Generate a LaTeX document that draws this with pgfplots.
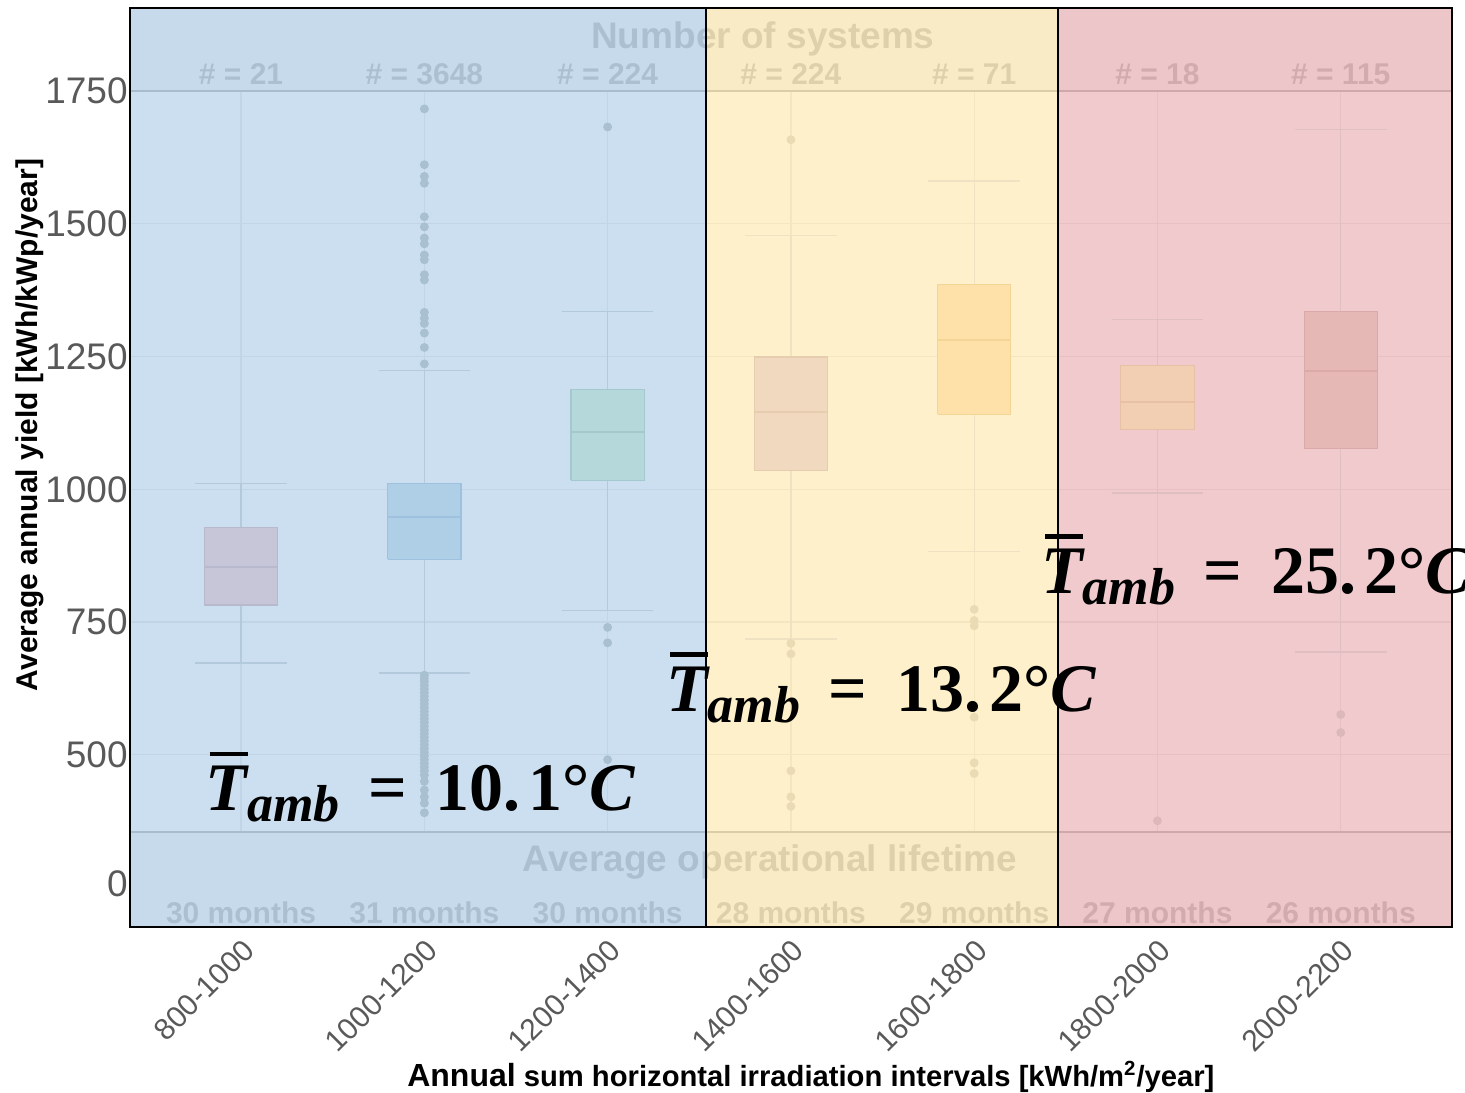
\documentclass[border=0pt]{standalone}
\usepackage[no-math]{fontspec}
\setmainfont{Liberation Sans}
\newfontfamily\tfont{Liberation Serif}
\usepackage{pgfplots}
\pgfplotsset{compat=1.18}
\definecolor{blueov}{HTML}{AACAE6}
\definecolor{yellowov}{HTML}{FCE6A8}
\definecolor{redov}{HTML}{E8A8AC}
\definecolor{panelgray}{HTML}{F4F4F4}
\definecolor{gridc}{HTML}{E6E6E6}
\definecolor{sepc}{HTML}{A8A8A8}
\definecolor{txtc}{HTML}{B0B0B0}
\definecolor{tickc}{HTML}{595959}
\definecolor{wb}{HTML}{B3CADD}\definecolor{wy}{HTML}{EFE2C2}\definecolor{wr}{HTML}{DFBFC2}
\definecolor{ob}{HTML}{A9C0D1}\definecolor{oy}{HTML}{EADBB5}\definecolor{orr}{HTML}{DCB8BB}
\definecolor{bfa}{HTML}{C7C6D8}\definecolor{bea}{HTML}{B9B9CD}
\definecolor{bfb}{HTML}{AFCFE7}\definecolor{beb}{HTML}{9EC2DD}
\definecolor{bfc}{HTML}{B5D8DB}\definecolor{bec}{HTML}{A4C9CC}
\definecolor{bfd}{HTML}{F0D9BF}\definecolor{bed}{HTML}{E6CDB0}
\definecolor{bfe}{HTML}{FEE0A9}\definecolor{bee}{HTML}{F5D498}
\definecolor{bff}{HTML}{F2CEB3}\definecolor{bef}{HTML}{E7C0A5}
\definecolor{bfg}{HTML}{E5B8B5}\definecolor{beg}{HTML}{DAAAA8}
\newcommand{\Tamb}[1]{{\tfont\bfseries\fontsize{34}{38}\selectfont
  {\itshape\makebox[0pt][l]{\hspace{0.06em}\raisebox{0.8em}{\rule{0.56em}{0.07em}}}T}%
  \raisebox{-5.5pt}{\fontsize{26}{26}\selectfont\itshape amb}%
  \hspace{0.42em}=\hspace{0.42em}#1{\itshape C}}}
\pgfplotsset{
  whisk/.style={draw=#1, line width=0.7pt, mark=none, unbounded coords=jump},
  outl/.style={only marks, draw=#1, fill=#1, mark=*, mark size=2pt, mark options={draw=#1, fill=#1}},
  geom/.style={at={(0,0)}, anchor=south west, scale only axis, width=661pt, height=459.5pt,
    xmin=-0.606, xmax=6.607, ymin=176, ymax=1906, clip=false},
}
\tikzset{
  numtxt/.style={text=txtc, font=\bfseries\fontsize{15}{17}\selectfont},
  bigtxt/.style={text=txtc, font=\bfseries\fontsize{18.5}{20}\selectfont},
  tamb/.style={anchor=south west, inner sep=0pt},
  ax/.style={x=91.6401pt, y=0.265607pt, shift={(0.606,-176)}},
}
\begin{document}
\begin{tikzpicture}
% ---- layer 1: ticks, grid
\begin{axis}[geom,
  axis line style={draw=none},
  axis background/.style={fill=white},
  major tick length=0pt,
  xtick={0,1,2,3,4,5,6},
  xticklabels={800-1000,1000-1200,1200-1400,1400-1600,1600-1800,1800-2000,2000-2200},
  ytick={500,750,1000,1250,1500,1750},
  yticklabels={500,750,1000,1250,1500,1750},
  extra y ticks={257},
  extra y tick labels={0},
  xmajorgrids, ymajorgrids,
  major grid style={draw=gridc, line width=0.6pt},
  tick label style={text=tickc},
  yticklabel style={font=\fontsize{18.5}{20}\selectfont, inner sep=0pt, xshift=-1pt},
  xticklabel style={font=\fontsize{15}{17}\selectfont, inner sep=0pt, yshift=-5pt, rotate=45, anchor=north east},
]
\addplot[draw=none, mark=none] coordinates {(0,1000)(1,1000)};
\end{axis}
% ---- layer 2: panels, texts, overlay
\begin{scope}[ax]
\fill[panelgray] (-0.606,1750) rectangle (6.607,1906);
\fill[panelgray] (-0.606,176) rectangle (6.607,355);
\draw[sepc, line width=0.8pt] (-0.606,1750) -- (6.607,1750);
\draw[sepc, line width=0.8pt] (-0.606,355) -- (6.607,355);
\node[bigtxt] at (2.847,1848) {Number of systems};
\node[numtxt] at (0,1782) {\# = 21};
\node[numtxt] at (1,1782) {\# = 3648};
\node[numtxt] at (2,1782) {\# = 224};
\node[numtxt] at (3,1782) {\# = 224};
\node[numtxt] at (4,1782) {\# = 71};
\node[numtxt] at (5,1782) {\# = 18};
\node[numtxt] at (6,1782) {\# = 115};
\node[bigtxt] at (2.886,299) {Average operational lifetime};
\node[numtxt] at (0,203) {30 months};
\node[numtxt] at (1,203) {31 months};
\node[numtxt] at (2,203) {30 months};
\node[numtxt] at (3,203) {28 months};
\node[numtxt] at (4,203) {29 months};
\node[numtxt] at (5,203) {27 months};
\node[numtxt] at (6,203) {26 months};
\fill[blueov, fill opacity=0.6] (-0.606,176) rectangle (2.537,1906);
\fill[yellowov, fill opacity=0.6] (2.537,176) rectangle (4.457,1906);
\fill[redov, fill opacity=0.6] (4.457,176) rectangle (6.607,1906);
\end{scope}
% ---- layer 3: the box plots
\begin{axis}[geom, hide axis]
\addplot[whisk=wb] coordinates {(0,928)(0,1011)(0,nan)(-0.25,1011)(0.25,1011)(0,nan)(0,782)(0,673)(0,nan)(-0.25,673)(0.25,673)};
\addplot[whisk=wb] coordinates {(1,1011)(1,1224)(1,nan)(0.75,1224)(1.25,1224)(1,nan)(1,868)(1,654)(1,nan)(0.75,654)(1.25,654)};
\addplot[whisk=wb] coordinates {(2,1188)(2,1335)(2,nan)(1.75,1335)(2.25,1335)(2,nan)(2,1017)(2,772)(2,nan)(1.75,772)(2.25,772)};
\addplot[whisk=wy] coordinates {(3,1249)(3,1478)(3,nan)(2.75,1478)(3.25,1478)(3,nan)(3,1035)(3,718)(3,nan)(2.75,718)(3.25,718)};
\addplot[whisk=wy] coordinates {(4,1386)(4,1580)(4,nan)(3.75,1580)(4.25,1580)(4,nan)(4,1141)(4,883)(4,nan)(3.75,883)(4.25,883)};
\addplot[whisk=wr] coordinates {(5,1233)(5,1320)(5,nan)(4.75,1320)(5.25,1320)(5,nan)(5,1112)(5,993)(5,nan)(4.75,993)(5.25,993)};
\addplot[whisk=wr] coordinates {(6,1335)(6,1677)(6,nan)(5.75,1677)(6.25,1677)(6,nan)(6,1077)(6,694)(6,nan)(5.75,694)(6.25,694)};
\addplot[fill=bfa, draw=bea, line width=0.6pt, mark=none] coordinates {(-0.2,782)(0.2,782)(0.2,928)(-0.2,928)(-0.2,782)};
\addplot[fill=bfb, draw=beb, line width=0.6pt, mark=none] coordinates {(0.8,868)(1.2,868)(1.2,1011)(0.8,1011)(0.8,868)};
\addplot[fill=bfc, draw=bec, line width=0.6pt, mark=none] coordinates {(1.8,1017)(2.2,1017)(2.2,1188)(1.8,1188)(1.8,1017)};
\addplot[fill=bfd, draw=bed, line width=0.6pt, mark=none] coordinates {(2.8,1035)(3.2,1035)(3.2,1249)(2.8,1249)(2.8,1035)};
\addplot[fill=bfe, draw=bee, line width=0.6pt, mark=none] coordinates {(3.8,1141)(4.2,1141)(4.2,1386)(3.8,1386)(3.8,1141)};
\addplot[fill=bff, draw=bef, line width=0.6pt, mark=none] coordinates {(4.8,1112)(5.2,1112)(5.2,1233)(4.8,1233)(4.8,1112)};
\addplot[fill=bfg, draw=beg, line width=0.6pt, mark=none] coordinates {(5.8,1077)(6.2,1077)(6.2,1335)(5.8,1335)(5.8,1077)};
\addplot[draw=bea, line width=1pt, mark=none] coordinates {(-0.2,854)(0.2,854)};
\addplot[draw=beb, line width=1pt, mark=none] coordinates {(0.8,948)(1.2,948)};
\addplot[draw=bec, line width=1pt, mark=none] coordinates {(1.8,1107)(2.2,1107)};
\addplot[draw=bed, line width=1pt, mark=none] coordinates {(2.8,1146)(3.2,1146)};
\addplot[draw=bee, line width=1pt, mark=none] coordinates {(3.8,1281)(4.2,1281)};
\addplot[draw=bef, line width=1pt, mark=none] coordinates {(4.8,1164)(5.2,1164)};
\addplot[draw=beg, line width=1pt, mark=none] coordinates {(5.8,1222)(6.2,1222)};
\addplot[outl=ob] coordinates {(1,1236)(1,1267)(1,1294)(1,1312)(1,1322)(1,1333)(1,1394)(1,1404)(1,1432)(1,1441)(1,1462)(1,1473)(1,1494)(1,1513)(1,1576)(1,1589)(1,1611)(1,1716)
 (1,650)(1,644)(1,638)(1,631)(1,624)(1,617)(1,610)(1,603)(1,596)(1,589)(1,582)(1,575)(1,568)(1,561)(1,554)(1,547)(1,540)(1,533)(1,526)(1,519)(1,512)(1,505)(1,498)(1,491)(1,484)(1,477)(1,470)(1,462)(1,450)(1,434)(1,421)(1,409)(1,391)
 (2,1682)(2,740)(2,711)(2,491)};
\addplot[outl=oy] coordinates {(3,1658)(3,710)(3,690)(3,470)(3,421)(3,403)(4,774)(4,753)(4,743)(4,571)(4,485)(4,465)};
\addplot[outl=orr] coordinates {(5,376)(6,576)(6,542)};
\end{axis}
% ---- layer 4: frames, annotations, labels
\begin{scope}[ax]
\draw[black, line width=1.2pt] (-0.606,176) rectangle (2.537,1906);
\draw[black, line width=1.2pt] (2.537,176) rectangle (4.457,1906);
\draw[black, line width=1.2pt] (4.457,176) rectangle (6.607,1906);
\node[tamb] at (-0.196,372) {\Tamb{10.\hspace{0.12em}1°}};
\node[tamb] at (2.318,560) {\Tamb{13.\hspace{0.12em}2°}};
\node[tamb] at (4.364,782) {\Tamb{25.\hspace{0.12em}2°}};
\node[rotate=90, font=\bfseries\fontsize{15}{17}\selectfont] at (-1.1515,1121) {Average annual yield [kWh/kWp/year]};
\node[font=\bfseries\fontsize{14.6}{17}\selectfont] at (3.109,-106) {{\fontsize{16}{17}\selectfont Annual} sum horizontal irradiation intervals [kWh/m\textsuperscript{2}/year]};
\end{scope}
\pgfresetboundingbox
\useasboundingbox (-65pt,-82.5pt) rectangle (667.5pt,463.5pt);
\end{tikzpicture}
\end{document}
